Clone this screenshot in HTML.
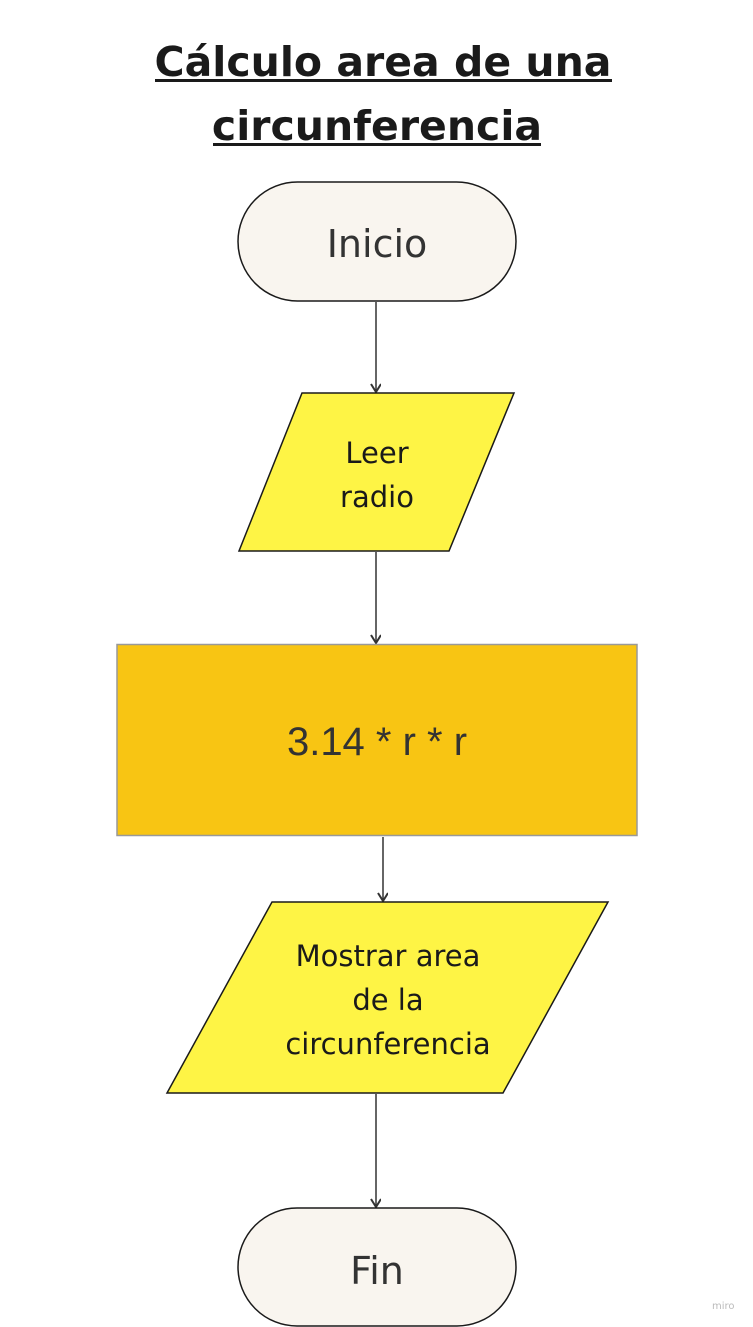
<!DOCTYPE html>
<html><head><meta charset="utf-8"><style>
html,body{margin:0;padding:0;background:#fff;}
svg{display:block;}
text{font-family:"DejaVu Sans","Liberation Sans",sans-serif;}
</style></head><body>
<svg width="753" height="1327" viewBox="0 0 753 1327" xmlns="http://www.w3.org/2000/svg">
<defs><marker id="a" markerWidth="12" markerHeight="12" refX="9" refY="5" orient="auto" markerUnits="userSpaceOnUse"><path d="M1,0 L9,5 L1,10" fill="none" stroke="#333" stroke-width="2"/></marker></defs>
<text x="383" y="76" text-anchor="middle" font-size="41" font-weight="bold" fill="#1a1a1a">Cálculo area de una </text>
<rect x="155" y="79" width="457" height="3" fill="#1a1a1a"/>
<text x="377" y="140" text-anchor="middle" font-size="41" font-weight="bold" fill="#1a1a1a">circunferencia</text>
<rect x="213" y="143" width="328" height="3" fill="#1a1a1a"/>

<rect x="238" y="182" width="278" height="119" rx="59.5" fill="#f9f5ef" stroke="#1a1a1a" stroke-width="1.5"/>
<text x="377" y="257" text-anchor="middle" font-size="38" fill="#333">Inicio</text>

<g stroke="#333" stroke-width="1.5" marker-end="url(#a)">
<line x1="376" y1="302" x2="376" y2="392"/>
<line x1="376" y1="552" x2="376" y2="643"/>
<line x1="383" y1="837" x2="383" y2="901"/>
<line x1="376" y1="1094" x2="376" y2="1207"/>
</g>

<polygon points="302,393 514,393 449,551 239,551" fill="#fef445" stroke="#1a1a1a" stroke-width="1.5"/>
<text x="377" y="463" text-anchor="middle" font-size="29" fill="#1a1a1a">Leer</text>
<text x="377" y="507" text-anchor="middle" font-size="29" fill="#1a1a1a">radio</text>

<rect x="117" y="644.5" width="520" height="191" fill="#f8c513" stroke="#999" stroke-width="1.5"/>
<text x="377" y="755" text-anchor="middle" font-size="40" fill="#333" style="font-family:'Liberation Sans',sans-serif">3.14 * r * r</text>

<polygon points="272,902 608,902 503,1093 167,1093" fill="#fef445" stroke="#1a1a1a" stroke-width="1.5"/>
<text x="388" y="966" text-anchor="middle" font-size="29" fill="#1a1a1a">Mostrar area</text>
<text x="388" y="1010" text-anchor="middle" font-size="29" fill="#1a1a1a">de la</text>
<text x="388" y="1054" text-anchor="middle" font-size="29" fill="#1a1a1a">circunferencia</text>

<rect x="238" y="1208" width="278" height="118" rx="59" fill="#f9f5ef" stroke="#1a1a1a" stroke-width="1.5"/>
<text x="377" y="1284" text-anchor="middle" font-size="38" fill="#333">Fin</text>

<text x="712" y="1309" font-size="10" fill="#bbb">miro</text>
</svg>
</body></html>
